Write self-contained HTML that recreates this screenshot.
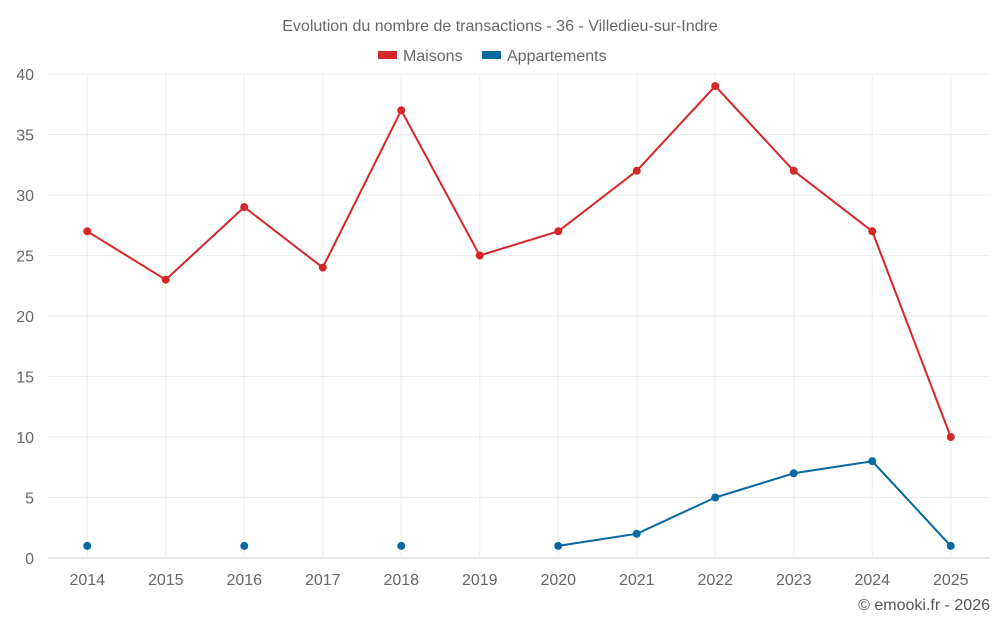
<!DOCTYPE html>
<html><head><meta charset="utf-8"><style>
body{margin:0;background:#fff;font-family:"Liberation Sans",sans-serif;}
svg text{font-family:"Liberation Sans",sans-serif;}
</style></head><body>
<svg id="c" width="1000" height="625">
<text x="500" y="31" text-anchor="middle" font-size="16" fill="#666">Evolution du nombre de transactions - 36 - Villedieu-sur-Indre</text>
<g><rect x="378" y="51" width="19" height="8" fill="#d62728"/><text x="403" y="61" font-size="16" fill="#666">Maisons</text></g>
<g><rect x="482" y="51" width="19" height="8" fill="#0868a0"/><text x="507" y="61" font-size="16" fill="#666">Appartements</text></g>
<text x="990" y="610" text-anchor="end" font-size="16" fill="#555">© emooki.fr - 2026</text>
<g id="g"></g>
</svg>
<script>
const years=["2014","2015","2016","2017","2018","2019","2020","2021","2022","2023","2024","2025"];
const maisons=[27,23,29,24,37,25,27,32,39,32,27,10];
const appartements=[1,null,1,null,1,null,1,2,5,7,8,1];
const yTicks=[0,5,10,15,20,25,30,35,40];
const L=48,R=990,T=74,B=558,YMAX=40;
const bw=(R-L)/years.length;
const X=i=>L+bw*(i+0.5);
const Y=v=>B-(v/YMAX)*(B-T);
const g=document.getElementById('g');
const NS="http://www.w3.org/2000/svg";
function mk(t,a){const e=document.createElementNS(NS,t);for(const k in a)e.setAttribute(k,a[k]);g.appendChild(e);return e;}
yTicks.forEach(v=>{
 const l=mk('line',{x1:L,x2:R,y1:Y(v),y2:Y(v),stroke:v===0?'#ccc':'#eee'});
 
 
 const t=mk('text',{x:34,y:Y(v)+6,'text-anchor':'end','font-size':16,fill:'#666'});t.textContent=v;
 
 
});
years.forEach((y,i)=>{
 const l=mk('line',{x1:X(i),x2:X(i),y1:T,y2:B,stroke:'#eee'});
 
 
 const t=mk('text',{x:X(i),y:585,'text-anchor':'middle','font-size':16,fill:'#666'});t.textContent=y;
 
 
});
function series(data,color,name){
 for(let i=0;i<data.length-1;i++){
  if(data[i]!=null&&data[i+1]!=null){
   const l=mk('line',{x1:X(i),y1:Y(data[i]),x2:X(i+1),y2:Y(data[i+1]),stroke:color,'stroke-width':2});
   
   
  }
 }
 data.forEach((v,i)=>{if(v==null)return;
  const c=mk('circle',{cx:X(i),cy:Y(v),r:4,fill:color});
  
  
 });
}
series(maisons,'#d62728','maisons');
series(appartements,'#0868a0','appartements');
</script>
</body></html>
